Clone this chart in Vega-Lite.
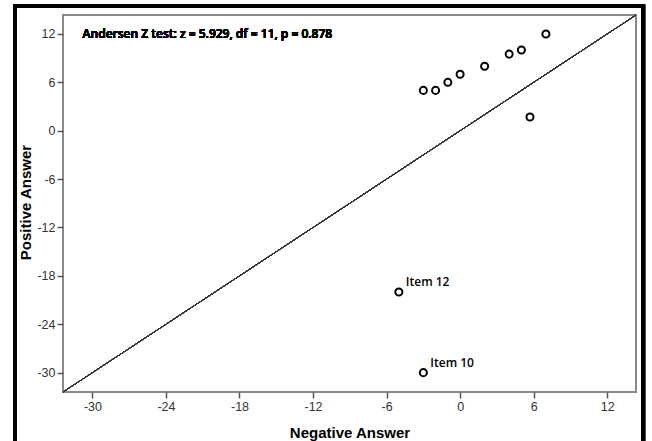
{
  "$schema": "https://vega.github.io/schema/vega-lite/v6.json",
  "width": 573,
  "height": 377,
  "autosize": "none",
  "padding": {"left": 63, "top": 15, "right": 16, "bottom": 49},
  "background": "white",
  "config": {
    "view": {"stroke": "#8a8a8a", "strokeWidth": 2},
    "axis": {
      "grid": false,
      "domain": false,
      "tickColor": "#555555",
      "tickSize": 6,
      "tickWidth": 1.5,
      "labelFont": "Liberation Sans",
      "labelFontSize": 12.5,
      "labelColor": "#333333",
      "labelPadding": 2,
      "labelExpr": "toString(datum.value)",
      "titleColor": "#000000",
      "titleFontWeight": "bold",
      "titleFont": "Liberation Sans"
    },
    "axisX": {"titleFontSize": 15, "titleY": 45, "titleBaseline": "alphabetic"},
    "axisY": {"titleFontSize": 15, "titleX": -38, "titleY": 187, "titleAlign": "center", "titleBaseline": "middle", "titleAngle": -90}
  },
  "data": {
    "values": [
      {"x": -3, "y": 5, "label": ""},
      {"x": -2, "y": 5, "label": ""},
      {"x": -1, "y": 6, "label": ""},
      {"x": 0, "y": 7, "label": ""},
      {"x": 2, "y": 8, "label": ""},
      {"x": 4, "y": 9.5, "label": ""},
      {"x": 5, "y": 10, "label": ""},
      {"x": 7, "y": 12, "label": ""},
      {"x": 5.7, "y": 1.7, "label": ""},
      {"x": -5, "y": -20, "label": "Item 12"},
      {"x": -3, "y": -30, "label": "Item 10"}
    ]
  },
  "layer": [
    {
      "mark": {"type": "rect", "fill": null, "stroke": "#000000", "strokeWidth": 3.5, "clip": false},
      "encoding": {
        "x": {"datum": -36.3, "type": "quantitative", "scale": {"domain": [-32.4, 14.35], "nice": false, "zero": false}, "axis": {"values": [-30, -24, -18, -12, -6, 0, 6, 12]}, "title": "Negative Answer"},
        "x2": {"datum": 14.95},
        "y": {"datum": 15.45, "type": "quantitative", "scale": {"domain": [-32.4, 14.35], "nice": false, "zero": false}, "axis": {"values": [-30, -24, -18, -12, -6, 0, 6, 12]}, "title": "Positive Answer"},
        "y2": {"datum": -40}
      }
    },
    {
      "mark": {"type": "rule", "color": "#333333", "strokeWidth": 1},
      "encoding": {
        "x": {"datum": -32.4, "type": "quantitative", "scale": {"domain": [-32.4, 14.35], "nice": false, "zero": false}, "axis": {"values": [-30, -24, -18, -12, -6, 0, 6, 12]}, "title": "Negative Answer"},
        "x2": {"datum": 14.35},
        "y": {"datum": -32.4, "type": "quantitative", "scale": {"domain": [-32.4, 14.35], "nice": false, "zero": false}, "axis": {"values": [-30, -24, -18, -12, -6, 0, 6, 12]}, "title": "Positive Answer"},
        "y2": {"datum": 14.35}
      }
    },
    {
      "mark": {"type": "point", "shape": "circle", "filled": false, "stroke": "#000000", "strokeWidth": 2, "size": 50, "opacity": 1},
      "encoding": {
        "x": {"field": "x", "type": "quantitative", "scale": {"domain": [-32.4, 14.35], "nice": false, "zero": false}, "axis": {"values": [-30, -24, -18, -12, -6, 0, 6, 12]}, "title": "Negative Answer"},
        "y": {"field": "y", "type": "quantitative", "scale": {"domain": [-32.4, 14.35], "nice": false, "zero": false}, "axis": {"values": [-30, -24, -18, -12, -6, 0, 6, 12]}, "title": "Positive Answer"}
      }
    },
    {
      "mark": {"type": "text", "align": "left", "baseline": "middle", "dx": 7, "dy": -10, "font": "Open Sans", "fontWeight": 600, "fontSize": 12, "color": "#000000"},
      "encoding": {
        "x": {"field": "x", "type": "quantitative", "scale": {"domain": [-32.4, 14.35], "nice": false, "zero": false}, "axis": {"values": [-30, -24, -18, -12, -6, 0, 6, 12]}, "title": "Negative Answer"},
        "y": {"field": "y", "type": "quantitative", "scale": {"domain": [-32.4, 14.35], "nice": false, "zero": false}, "axis": {"values": [-30, -24, -18, -12, -6, 0, 6, 12]}, "title": "Positive Answer"},
        "text": {"field": "label"}
      }
    },
    {
      "mark": {"type": "text", "align": "left", "baseline": "middle", "font": "Open Sans", "fontWeight": 600, "fontSize": 12, "color": "#000000", "text": "Andersen Z test: z = 5.929, df = 11, p = 0.878"},
      "encoding": {
        "x": {"datum": -30.8, "type": "quantitative", "scale": {"domain": [-32.4, 14.35], "nice": false, "zero": false}, "axis": {"values": [-30, -24, -18, -12, -6, 0, 6, 12]}, "title": "Negative Answer"},
        "y": {"datum": 12, "type": "quantitative", "scale": {"domain": [-32.4, 14.35], "nice": false, "zero": false}, "axis": {"values": [-30, -24, -18, -12, -6, 0, 6, 12]}, "title": "Positive Answer"}
      }
    }
  ]
}
